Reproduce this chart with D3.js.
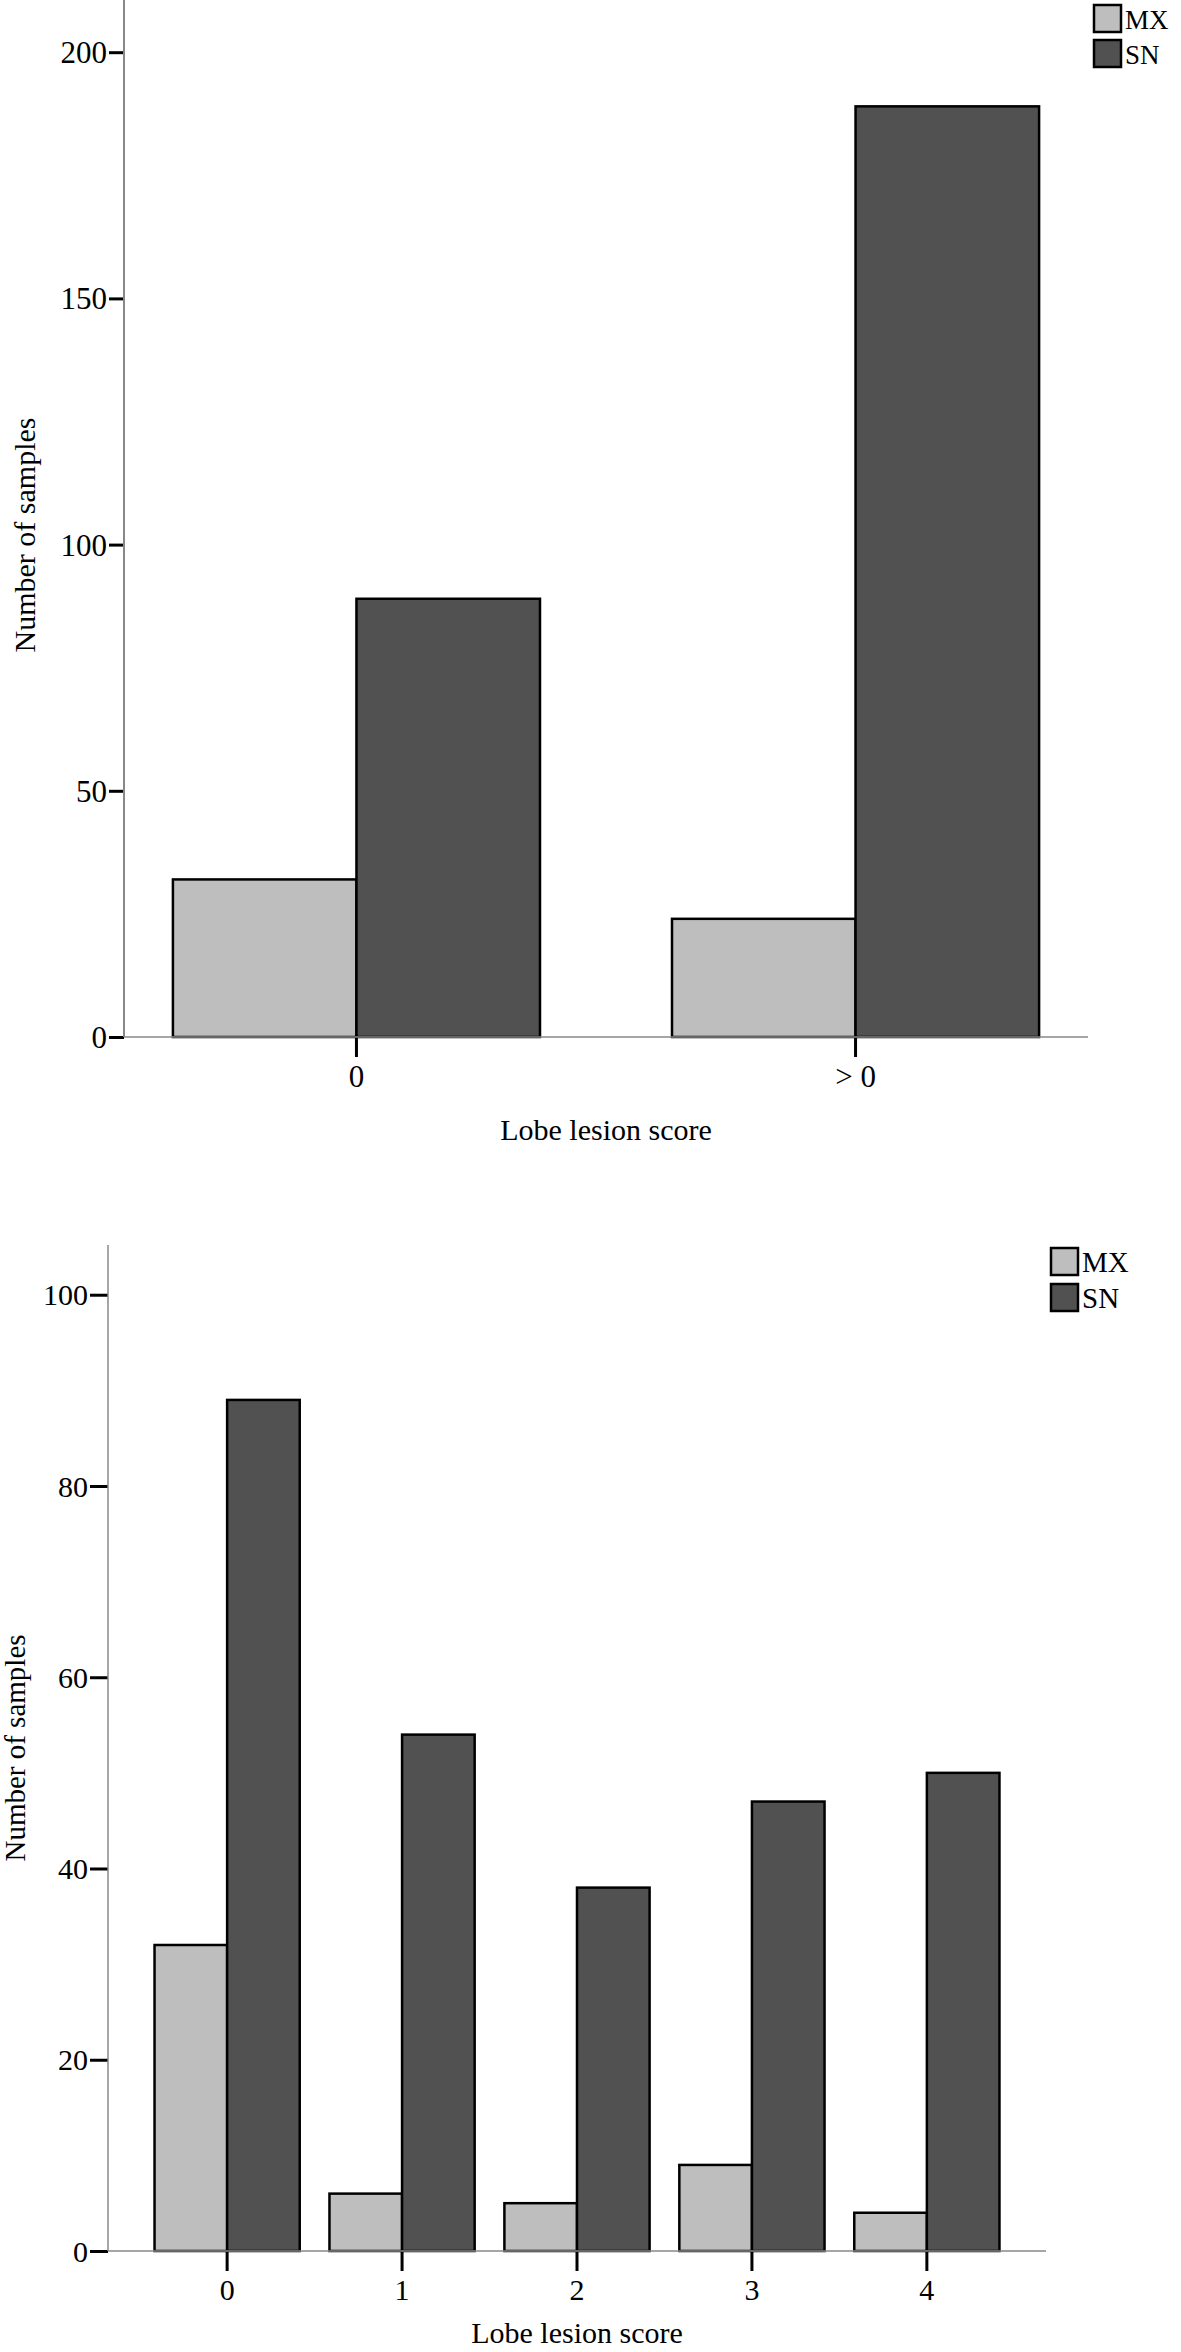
<!DOCTYPE html>
<html>
<head>
  <title>Lobe lesion score bar charts</title>
  <script src="https://d3js.org/d3.v7.min.js"></script>
  <style>
    body { margin: 0; background: #fff; }
    svg { display: block; }
    text { font-family: "Liberation Serif", "Times New Roman", serif; fill: #000; }
  </style>
</head>
<body>
  <svg id="chart" width="1181" height="2352"></svg>

  <script>
    // Data for the charts
    const seriesNames = ['MX', 'SN'];
    const seriesColors = ['#bebebe', '#515151'];

    const topCategories = ['0', '> 0'];
    const topMX = [32, 24];
    const topSN = [89, 189];
    const topYTicks = [0, 50, 100, 150, 200];

    const bottomCategories = ['0', '1', '2', '3', '4'];
    const bottomMX = [32, 6, 5, 9, 4];
    const bottomSN = [89, 54, 38, 47, 50];
    const bottomYTicks = [0, 20, 40, 60, 80, 100];

    const svg = d3.select('#chart');
    const serif = '"Liberation Serif", "Times New Roman", serif';

    function drawChart(cfg) {
      const g = svg.append('g');
      const rows = cfg.categories.map((c, i) => ({ cat: c, values: [cfg.mx[i], cfg.sn[i]] }));

      const x0 = d3.scaleBand()
        .domain(cfg.categories)
        .range([cfg.left, cfg.right])
        .paddingInner(cfg.padInner)
        .paddingOuter(cfg.padOuter);

      const x1 = d3.scaleBand()
        .domain(seriesNames)
        .range([0, x0.bandwidth()]);

      const y = d3.scaleLinear()
        .domain([0, cfg.yMax])
        .range([cfg.bottom, cfg.top]);

      // bars
      g.selectAll('g.group')
        .data(rows)
        .join('g')
        .attr('class', 'group')
        .attr('transform', d => `translate(${x0(d.cat)},0)`)
        .selectAll('rect')
        .data(d => d.values.map((v, i) => ({ key: seriesNames[i], value: v, i })))
        .join('rect')
        .attr('x', d => x1(d.key))
        .attr('y', d => y(d.value))
        .attr('width', x1.bandwidth())
        .attr('height', d => y(0) - y(d.value))
        .attr('fill', d => seriesColors[d.i])
        .attr('stroke', '#000')
        .attr('stroke-width', 2.5);

      // y axis
      const yAxis = g.append('g')
        .attr('transform', `translate(${cfg.left},0)`)
        .call(d3.axisLeft(y).tickValues(cfg.yTicks).tickSize(cfg.yTickLen).tickPadding(2).tickSizeOuter(0))
        .attr('font-family', serif);
      yAxis.select('.domain').remove();
      yAxis.selectAll('.tick line').attr('stroke', '#000').attr('stroke-width', 3);
      yAxis.selectAll('.tick text').attr('font-size', cfg.tickFont).attr('dy', '0.34em');
      g.append('line')
        .attr('x1', cfg.left).attr('x2', cfg.left)
        .attr('y1', cfg.top).attr('y2', cfg.bottom)
        .attr('stroke', '#888').attr('stroke-width', cfg.yAxisWidth);

      // x axis
      const xAxis = g.append('g')
        .attr('transform', `translate(0,${cfg.bottom})`)
        .call(d3.axisBottom(x0).tickSize(20).tickPadding(8).tickSizeOuter(0))
        .attr('font-family', serif);
      xAxis.select('.domain').remove();
      xAxis.selectAll('.tick line').attr('stroke', '#000').attr('stroke-width', 3);
      xAxis.selectAll('.tick text').attr('font-size', cfg.tickFont);
      g.append('line')
        .attr('x1', cfg.left).attr('x2', cfg.right)
        .attr('y1', cfg.bottom).attr('y2', cfg.bottom)
        .attr('stroke', '#888').attr('stroke-width', 1.5);

      // axis titles
      g.append('text')
        .attr('x', (cfg.left + cfg.right) / 2)
        .attr('y', cfg.xTitleY)
        .attr('text-anchor', 'middle')
        .attr('font-size', 30)
        .text('Lobe lesion score');

      g.append('text')
        .attr('transform', `translate(${cfg.yTitleX},${cfg.yTitleY}) rotate(-90)`)
        .attr('text-anchor', 'middle')
        .attr('font-size', cfg.yTitleFont)
        .text('Number of samples');

      // legend
      const legend = g.append('g')
        .attr('transform', `translate(${cfg.legendX},${cfg.legendY})`);
      const item = legend.selectAll('g')
        .data(seriesNames)
        .join('g')
        .attr('transform', (d, i) => `translate(0,${i * cfg.legendStep})`);
      item.append('rect')
        .attr('width', cfg.legendBox).attr('height', cfg.legendBox)
        .attr('fill', (d, i) => seriesColors[i])
        .attr('stroke', '#000').attr('stroke-width', 2.5);
      item.append('text')
        .attr('x', cfg.legendBox + 4)
        .attr('y', cfg.legendBox - 3)
        .attr('font-size', cfg.legendFont)
        .text(d => d);
    }

    drawChart({
      categories: topCategories, mx: topMX, sn: topSN, yTicks: topYTicks,
      left: 124, right: 1088, top: 0, bottom: 1037, yMax: 210.6,
      padInner: 0.2645, padOuter: 0.098,
      yTickLen: 15, tickFont: 31, yAxisWidth: 2,
      xTitleY: 1140, yTitleX: 35, yTitleY: 535, yTitleFont: 30,
      legendX: 1094, legendY: 5, legendStep: 35, legendBox: 27, legendFont: 27
    });

    drawChart({
      categories: bottomCategories, mx: bottomMX, sn: bottomSN, yTicks: bottomYTicks,
      left: 108, right: 1046, top: 1245, bottom: 2251, yMax: 105.2,
      padInner: 0.17, padOuter: 0.266,
      yTickLen: 18, tickFont: 30, yAxisWidth: 1.5,
      xTitleY: 2343, yTitleX: 25, yTitleY: 1748, yTitleFont: 29,
      legendX: 1051, legendY: 1248, legendStep: 36, legendBox: 27, legendFont: 29
    });
  </script>
</body>
</html>
